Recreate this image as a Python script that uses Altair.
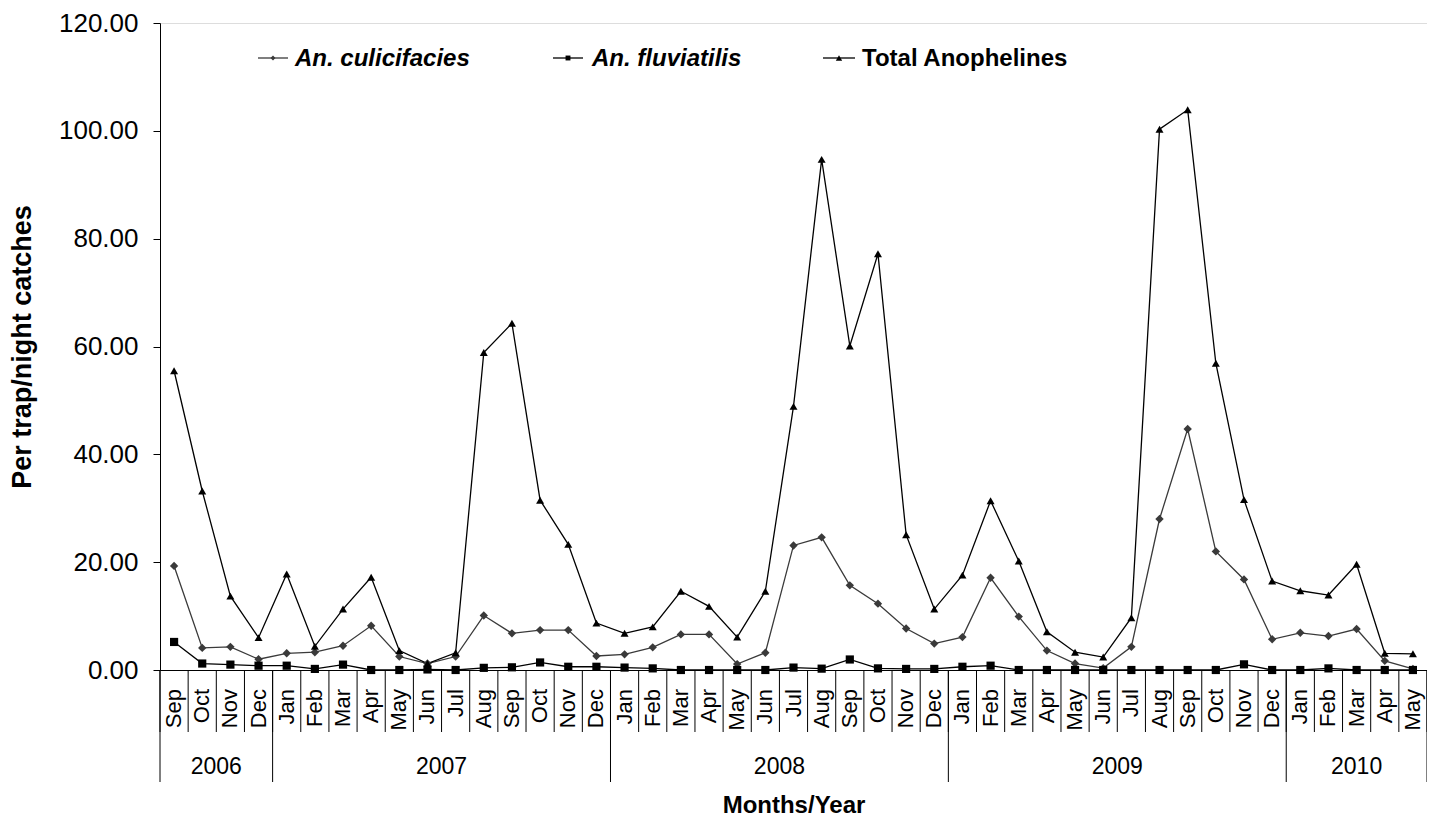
import altair as alt
import pandas as pd

# ---------------- data ----------------
months = (["Sep", "Oct", "Nov", "Dec"]
          + ["Jan", "Feb", "Mar", "Apr", "May", "Jun", "Jul", "Aug", "Sep", "Oct", "Nov", "Dec"] * 3
          + ["Jan", "Feb", "Mar", "Apr", "May"])
years = ["2006", "2007", "2008", "2009", "2010"]
months_per_year = [4, 12, 12, 12, 5]

culicifacies = [19.3, 4.1, 4.3, 2.0,
                3.1, 3.3, 4.5, 8.2, 2.5, 1.2, 2.5, 10.1, 6.8, 7.4, 7.4, 2.6,
                2.9, 4.2, 6.6, 6.6, 1.1, 3.2, 23.1, 24.6, 15.7, 12.3, 7.7, 4.9,
                6.1, 17.1, 9.9, 3.6, 1.2, 0.35, 4.3, 28.0, 44.7, 22.0, 16.8, 5.7,
                6.9, 6.3, 7.6, 1.7, 0.2]
fluviatilis = [5.2, 1.2, 1.0, 0.8,
               0.8, 0.2, 1.0, 0.0, 0.0, 0.1, 0.0, 0.4, 0.5, 1.4, 0.6, 0.6,
               0.45, 0.3, 0.0, 0.0, 0.0, 0.0, 0.45, 0.25, 1.95, 0.3, 0.2, 0.2,
               0.6, 0.8, 0.0, 0.0, 0.0, 0.0, 0.0, 0.0, 0.0, 0.0, 1.05, 0.0,
               0.0, 0.3, 0.0, 0.0, 0.0]
total = [55.5, 33.2, 13.7, 6.0,
         17.8, 4.4, 11.3, 17.2, 3.6, 1.2, 3.2, 58.9, 64.3, 31.5, 23.3, 8.7,
         6.8, 8.0, 14.6, 11.8, 6.1, 14.6, 48.9, 94.7, 60.1, 77.2, 25.1, 11.3,
         17.6, 31.4, 20.2, 7.1, 3.3, 2.4, 9.7, 100.3, 103.9, 56.9, 31.6, 16.5,
         14.7, 13.9, 19.6, 3.1, 3.0]
series_names = ["An. culicifacies", "An. fluviatilis", "Total Anophelines"]
y_ticks = [0, 20, 40, 60, 80, 100, 120]

# ---------------- tables ----------------
n = len(months)
rows = []
for i in range(n):
    for name, vals in zip(series_names, [culicifacies, fluviatilis, total]):
        rows.append({"x": i + 0.5, "value": vals[i], "series": name})
long_df = pd.DataFrame(rows)
month_df = pd.DataFrame({"x": [i + 0.5 for i in range(n)], "month": months})
bounds_df = pd.DataFrame({"x": list(range(n + 1))})
starts = [sum(months_per_year[:k]) for k in range(len(years))]
year_bounds_df = pd.DataFrame({"x": starts + [n]})
year_df = pd.DataFrame({"x": [s + m / 2 for s, m in zip(starts, months_per_year)], "year": years})

TOP = 15
W, H = 1267, 662 - TOP
FONT = "Liberation Sans"

xs = alt.Scale(domain=[0, n], nice=False, zero=False)
ys = alt.Scale(domain=[0, 120], nice=False)
xaxis = alt.Axis(title="Months/Year", labels=False, ticks=False, grid=False,
                 domainColor="black", domainWidth=1,
                 titleFont=FONT, titleFontSize=24, titleFontWeight="bold", titleColor="black",
                 titleY=135, titleBaseline="middle")
yaxis = alt.Axis(title="Per trap/night catches", values=y_ticks, format=".2f", grid=False,
                 tickSize=7, tickColor="black", domainColor="black", domainWidth=1,
                 labelFont=FONT, labelFontSize=26, labelColor="black", labelPadding=15,
                 titleFont=FONT, titleFontSize=27, titleFontWeight="bold", titleColor="black",
                 titleX=-138, titleY=H / 2, titleAngle=270, titleAlign="center",
                 titleBaseline="middle")
X = alt.X("x:Q", scale=xs, axis=xaxis)

color_scale = alt.Scale(domain=series_names, range=["#3a3a3a", "#000000", "#000000"])
shape_scale = alt.Scale(domain=series_names, range=["diamond", "square", "triangle-up"])
size_scale = alt.Scale(domain=series_names, range=[70, 64, 130])

lines = alt.Chart(long_df).mark_line(strokeWidth=1.3).encode(
    x=X,
    y=alt.Y("value:Q", scale=ys, axis=yaxis),
    color=alt.Color("series:N", scale=color_scale, legend=None),
    detail="series:N",
)
points = alt.Chart(long_df).mark_point(filled=True, opacity=1).encode(
    x=X,
    y=alt.Y("value:Q", scale=ys, axis=yaxis),
    color=alt.Color("series:N", scale=color_scale, legend=None),
    shape=alt.Shape("series:N", scale=shape_scale, legend=None),
    size=alt.Size("series:N", scale=size_scale, legend=None),
)

month_ticks = alt.Chart(bounds_df).mark_rule(color="black", strokeWidth=1).encode(
    x=X, y=alt.value(H), y2=alt.value(H + 62))
year_ticks = alt.Chart(year_bounds_df).mark_rule(color="black", strokeWidth=1).encode(
    x=X, y=alt.value(H), y2=alt.value(H + 112))
month_labels = alt.Chart(month_df).mark_text(
    angle=270, align="right", baseline="middle", font=FONT, fontSize=22, color="black"
).encode(x=X, y=alt.value(H + 19), text="month:N")
year_labels = alt.Chart(year_df).mark_text(
    align="center", baseline="middle", font=FONT, fontSize=23, color="black"
).encode(x=X, y=alt.value(H + 97), text="year:N")

# ---------------- legend (drawn by hand, inside the plot) ----------------
LY = 51 - TOP
legend_layers = []
legend_pos = [(98, 128, 135, True), (393, 423, 432, True), (663, 695, 702, False)]
legend_shapes = ["diamond", "square", "triangle-up"]
legend_colors = ["#3a3a3a", "#000000", "#000000"]
legend_sizes = [24, 24, 40]
for k, name in enumerate(series_names):
    x1, x2, xt, ital = legend_pos[k]
    ldf = pd.DataFrame({"label": [name]})
    legend_layers.append(alt.Chart(ldf).mark_rule(color=legend_colors[k], strokeWidth=1.3).encode(
        x=alt.value(x1), x2=alt.value(x2), y=alt.value(LY - 1)))
    legend_layers.append(alt.Chart(ldf).mark_point(
        shape=legend_shapes[k], filled=True, opacity=1, color=legend_colors[k], size=legend_sizes[k]
    ).encode(x=alt.value((x1 + x2) / 2), y=alt.value(LY - 1)))
    text_kw = dict(align="left", baseline="middle", font=FONT, fontSize=24,
                   fontWeight="bold", color="black")
    if ital:
        text_kw["fontStyle"] = "italic"
    legend_layers.append(alt.Chart(ldf).mark_text(**text_kw).encode(
        x=alt.value(xt), y=alt.value(LY), text="label:N"))

chart = alt.layer(
    month_ticks, year_ticks, month_labels, year_labels, lines, points, *legend_layers
).properties(
    width=W, height=H,
    padding={"left": 152, "top": TOP, "right": 0, "bottom": 158},
    autosize=alt.AutoSizeParams(type="none"),
).configure_view(stroke=None).configure(background="white")

chart.save("out.html", embed_options={"renderer": "svg", "actions": False})
